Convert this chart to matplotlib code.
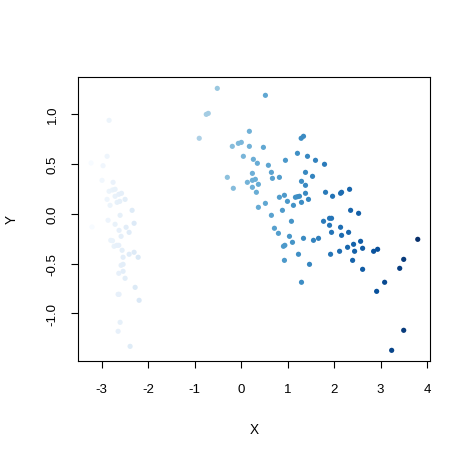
import matplotlib
matplotlib.use('Agg')
import matplotlib.pyplot as plt
import numpy as np

# scores (first two components)
x_setosa = [-2.838, -2.881, -3.226, -2.968, -2.989, -2.752, -2.838, -2.765, -2.709, -2.709,
            -2.629, -2.571, -2.881, -2.494, -2.666, -2.608, -2.817, -2.343, -2.601, -2.860,
            -3.205, -2.709, -2.300, -2.472, -2.623, -2.407, -2.580, -2.802, -2.765, -2.731,
            -2.672, -2.629, -2.558, -2.407, -2.300, -2.213, -2.537, -2.580, -2.537, -2.629,
            -2.537, -2.494, -2.278, -2.644, -2.623, -2.192, -2.601, -2.644, -2.386]
y_setosa = [0.937, 0.576, 0.509, 0.482, 0.335, 0.315, 0.225, 0.238, 0.245, 0.175,
            0.195, 0.205, 0.144, 0.144, 0.114, 0.124, 0.084, 0.034, -0.016, -0.066,
            -0.133, -0.106, -0.096, -0.136, -0.167, -0.187, -0.227, -0.267, -0.271, -0.327,
            -0.317, -0.317, -0.367, -0.407, -0.387, -0.437, -0.437, -0.518, -0.508, -0.598,
            -0.578, -0.648, -0.739, -0.809, -0.809, -0.869, -1.090, -1.180, -1.331]

x_rest = [-0.511, 0.524, -0.748, -0.705, -0.899, 0.179, 1.293, 1.343, -0.188, -0.058,
          0.006, 0.179, 0.481, 0.050, 1.213, 1.429, 1.601, 1.795, 0.265, 0.351,
          0.955, 0.588, 0.244, 0.653, 1.386, -0.295, 0.675, 0.825, 1.537, 0.136,
          0.244, 0.308, 0.373, 1.300, 1.386, -0.166, 0.244, 0.330, 1.817, 2.334,
          2.140, 2.162, 1.386, 1.968, 0.825, 0.933, 1.170, 1.213, 1.256, 1.450,
          0.998, 1.300, 0.524, 1.127, 0.373, 0.890, 2.356, 2.528, 0.653, 1.774,
          1.903, 1.946, 1.084, 1.903, 2.140, 0.718, 0.804, 1.946, 2.313, 2.162,
          1.041, 1.343, 1.558, 1.666, 1.106, 3.800, 2.420, 2.571, 0.912, 0.942,
          2.291, 2.614, 2.119, 2.442, 2.851, 2.937, 1.235, 1.925, 0.933, 2.399,
          3.498, 1.472, 3.412, 2.614, 3.088, 1.300, 2.916, 3.498, 3.239]
y_rest = [1.258, 1.188, 0.997, 1.007, 0.757, 0.827, 0.757, 0.777, 0.676, 0.706,
          0.716, 0.676, 0.666, 0.576, 0.606, 0.576, 0.536, 0.496, 0.546, 0.506,
          0.536, 0.486, 0.405, 0.415, 0.415, 0.365, 0.355, 0.365, 0.375, 0.315,
          0.335, 0.345, 0.295, 0.325, 0.285, 0.255, 0.265, 0.215, 0.215, 0.245,
          0.205, 0.215, 0.205, 0.175, 0.165, 0.185, 0.165, 0.171, 0.175, 0.144,
          0.124, 0.114, 0.104, 0.084, 0.064, 0.034, 0.034, 0.004, -0.016, -0.076,
          -0.046, -0.046, -0.076, -0.116, -0.136, -0.146, -0.197, -0.187, -0.187, -0.217,
          -0.227, -0.247, -0.267, -0.247, -0.287, -0.257, -0.307, -0.277, -0.327, -0.317,
          -0.337, -0.347, -0.377, -0.377, -0.377, -0.357, -0.407, -0.407, -0.468, -0.468,
          -0.458, -0.508, -0.548, -0.558, -0.688, -0.688, -0.779, -1.170, -1.371]

x = np.array(x_setosa + x_rest)
y = np.array(y_setosa + y_rest)

plt.rcParams['font.family'] = ['Liberation Sans', 'DejaVu Sans']

fig = plt.figure(figsize=(4.71, 4.60), dpi=100)
ax = fig.add_axes([78.3 / 471, 1 - 361.7 / 460, 352 / 471, 283.4 / 460])

# colour follows the x value along the Blues ramp
ax.scatter(x, y, c=x, cmap='Blues', vmin=x.min(), vmax=x.max(),
           s=14, linewidths=0, zorder=3)

ax.set_xlim(-3.50, 4.07)
ax.set_ylim(-1.475, 1.369)
ax.set_xticks([-3, -2, -1, 0, 1, 2, 3, 4])
ax.set_xticklabels(['-3', '-2', '-1', '0', '1', '2', '3', '4'])
ax.set_yticks([-1.0, -0.5, 0.0, 0.5, 1.0])
ax.set_yticklabels(['-1.0', '-0.5', '0.0', '0.5', '1.0'], rotation=90, va='center')

ax.tick_params(direction='out', length=5.2, width=0.8, labelsize=9.5, colors='black')
ax.tick_params(axis='x', pad=11)
ax.tick_params(axis='y', pad=9)
for sp in ax.spines.values():
    sp.set_linewidth(0.8)

ax.set_xlabel('X', fontsize=9.8)
ax.set_ylabel('Y', fontsize=9.8)
ax.xaxis.set_label_coords(0.5, (361.7 - 430.5) / 283.4)
ax.yaxis.set_label_coords((11.7 - 78.3) / 352, 0.5)
ax.xaxis.label.set_va('center')
ax.yaxis.label.set_va('center')

fig.savefig('out.png', dpi=100)
